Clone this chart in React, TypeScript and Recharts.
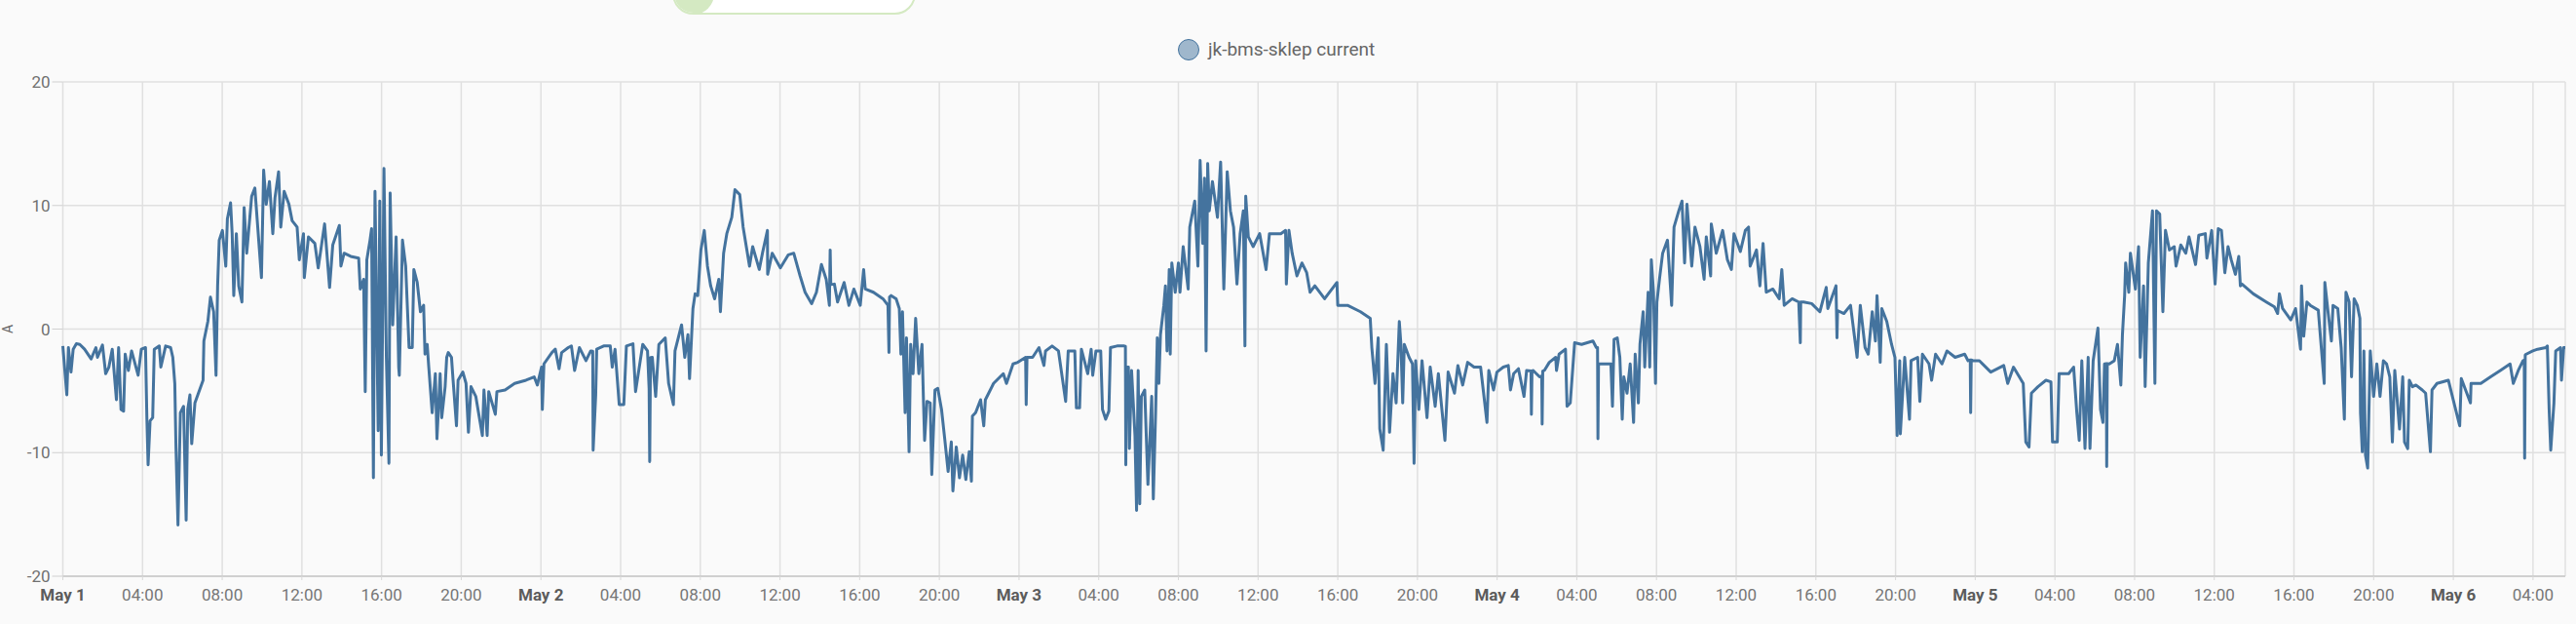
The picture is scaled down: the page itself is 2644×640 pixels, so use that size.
import { LineChart, Line, XAxis, YAxis, CartesianGrid } from "recharts";

// battery current readings [hours since May 1 00:00, amps], one list per day
const may1 = [
  [0.0, -1.37], [0.2, -5.32], [0.28, -1.5], [0.41, -3.48], [0.52, -1.63], [0.68, -1.19], [0.85, -1.24], [1.09, -1.63],
  [1.42, -2.42], [1.66, -1.5], [1.74, -2.29], [1.99, -1.29], [2.15, -3.61], [2.31, -3.08], [2.48, -1.63], [2.69, -5.72],
  [2.8, -1.5], [2.92, -6.51], [3.05, -6.64], [3.13, -2.03], [3.29, -3.35], [3.45, -1.77], [3.78, -3.74], [3.94, -1.63],
  [4.15, -1.5], [4.22, -7.3], [4.28, -10.99], [4.38, -7.43], [4.51, -7.17], [4.59, -1.63], [4.84, -1.37], [4.92, -3.08],
  [5.16, -1.37], [5.41, -1.5], [5.52, -2.29], [5.62, -4.4], [5.68, -9.67], [5.78, -15.86], [5.9, -6.77], [6.06, -6.25],
  [6.19, -15.47], [6.27, -6.51], [6.38, -5.32], [6.47, -9.28], [6.63, -5.98], [7.04, -4.14], [7.08, -0.97], [7.28, 0.61],
  [7.41, 2.58], [7.57, 1.4], [7.69, -3.74], [7.77, 3.5], [7.85, 7.19], [8.01, 7.98], [8.18, 5.09], [8.26, 8.91],
  [8.42, 10.22], [8.5, 7.72], [8.58, 2.71], [8.71, 7.72], [8.83, 3.5], [8.99, 2.19], [9.1, 9.83], [9.23, 6.14],
  [9.48, 10.75], [9.64, 11.41], [9.76, 8.77], [9.97, 4.16], [10.08, 12.86], [10.21, 10.09], [10.37, 11.94], [10.54, 7.72],
  [10.65, 10.62], [10.83, 12.73], [10.94, 8.25], [11.11, 11.15], [11.35, 10.09], [11.51, 8.77], [11.76, 8.25], [11.87, 5.61],
  [12.08, 7.72], [12.12, 4.16], [12.33, 7.46], [12.65, 6.93], [12.82, 4.95], [13.14, 8.51], [13.39, 3.37], [13.55, 6.8],
  [13.88, 8.38], [13.96, 5.09], [14.12, 6.14], [14.45, 5.88], [14.85, 5.74], [14.93, 3.24], [15.1, 4.03], [15.18, -5.06],
  [15.26, 5.61], [15.42, 7.19], [15.5, 8.12], [15.59, -12.04], [15.67, 11.15], [15.83, -8.22], [15.91, 10.36], [15.99, -10.2],
  [16.12, 12.99], [16.24, -2.29], [16.37, -10.86], [16.43, 11.01], [16.56, 0.34], [16.73, 7.46], [16.86, -3.08], [16.89, -3.74],
  [17.05, 7.19], [17.21, 5.09], [17.38, -1.5], [17.54, -1.5], [17.62, 4.82], [17.79, 3.77], [17.95, 1.4], [18.11, 1.92],
  [18.18, -2.03], [18.29, -1.24], [18.37, -3.08], [18.54, -6.77], [18.7, -3.61], [18.78, -8.88], [18.94, -3.61], [19.02, -7.17],
  [19.19, -4.66], [19.27, -2.29], [19.35, -1.9], [19.51, -2.29], [19.59, -4.14], [19.76, -7.83], [19.84, -4.14], [20.08, -3.48],
  [20.24, -4.4], [20.36, -8.35], [20.49, -4.66], [20.73, -5.45], [21.06, -8.62], [21.14, -4.93], [21.3, -8.62], [21.38, -5.06],
  [21.71, -6.9], [21.79, -5.06], [22.2, -4.93], [22.68, -4.4], [23.25, -4.14], [23.66, -3.87], [23.82, -4.53],
];

const may2 = [
  [24.03, -3.08], [24.07, -6.51], [24.15, -2.82], [24.55, -1.9], [24.72, -1.63], [24.91, -3.21], [25.04, -1.9], [25.37, -1.5],
  [25.53, -1.37], [25.69, -3.35], [25.93, -1.5], [26.26, -2.56], [26.5, -1.77], [26.6, -1.8], [26.62, -9.8], [26.75, -5.32], [26.8, -1.63],
  [27.15, -1.37], [27.48, -1.37], [27.58, -3.08], [27.72, -1.63], [27.93, -6.11], [28.16, -6.11], [28.29, -1.37], [28.62, -1.19],
  [28.75, -5.06], [29.11, -1.24], [29.35, -1.77], [29.43, -4.8], [29.46, -10.72], [29.5, -2.3], [29.59, -2.29], [29.76, -5.45], [29.92, -1.24],
  [30.24, -0.71], [30.41, -4.4], [30.65, -6.11], [30.73, -1.77], [31.06, 0.34], [31.22, -2.29], [31.38, -0.45], [31.46, -4.01],
  [31.63, 1.66], [31.74, 2.85], [31.87, 2.71], [32.03, 6.4], [32.2, 7.98], [32.36, 5.09], [32.52, 3.5], [32.72, 2.45],
  [32.93, 4.03], [33.01, 1.4], [33.17, 6.14], [33.33, 7.72], [33.58, 9.04], [33.74, 11.28], [33.98, 10.88], [34.15, 8.25],
  [34.31, 6.67], [34.47, 5.09], [34.63, 6.67], [34.96, 4.82], [35.12, 6.14], [35.37, 7.98], [35.38, 4.43], [35.61, 6.14],
  [36.02, 4.95], [36.42, 6.01], [36.69, 6.14], [37.01, 4.3], [37.26, 2.98], [37.59, 2.06], [37.83, 2.98], [38.08, 5.22],
  [38.32, 4.03], [38.48, 1.92], [38.52, 6.4], [38.55, 3.6], [38.73, 3.64], [38.89, 2.19], [39.22, 3.77], [39.46, 1.92], [39.71, 3.24],
  [40.03, 1.92], [40.2, 4.82], [40.28, 3.24], [40.69, 2.98], [41.17, 2.45], [41.42, 1.92], [41.47, -1.9], [41.5, 2.6], [41.58, 2.71],
  [41.83, 2.45], [41.99, 1.66], [42.07, -2.03], [42.15, 1.4], [42.28, -6.77], [42.35, -0.71], [42.48, -9.93], [42.56, -1.24],
  [42.68, -3.61], [42.81, 0.87], [42.97, -3.61], [43.13, -1.24], [43.21, -6.25], [43.26, -9.01], [43.38, -5.85], [43.54, -5.98],
  [43.62, -11.78], [43.78, -4.93], [43.92, -4.8], [44.11, -6.51], [44.27, -8.88], [44.44, -11.52], [44.6, -9.14], [44.68, -13.1],
  [44.85, -9.54], [45.01, -12.04], [45.17, -10.2], [45.33, -12.17], [45.5, -9.93], [45.61, -12.31], [45.66, -7.04], [45.82, -6.77],
  [46.07, -5.72], [46.23, -7.83], [46.31, -5.72], [46.72, -4.4], [47.21, -3.61], [47.37, -4.4], [47.7, -2.82], [47.94, -2.69],
];

const may3 = [
  [48.33, -2.29], [48.36, -6.11], [48.4, -2.29], [48.68, -2.29], [49.0, -1.5], [49.25, -2.95], [49.33, -1.77], [49.66, -1.37],
  [49.98, -1.77], [50.34, -5.85], [50.47, -1.77], [50.8, -1.77], [50.88, -6.38], [51.04, -6.38], [51.13, -1.63], [51.45, -3.61],
  [51.62, -1.63], [51.7, -3.74], [51.86, -1.77], [52.1, -1.77], [52.19, -6.51], [52.35, -7.3], [52.51, -6.64], [52.59, -1.5],
  [52.92, -1.37], [53.28, -1.37], [53.34, -1.4], [53.36, -10.99], [53.39, -3.08], [53.49, -3.08], [53.54, -9.67], [53.65, -3.35], [53.82, -8.62], [53.9, -14.68],
  [53.98, -3.35], [54.06, -14.15], [54.14, -5.45], [54.31, -4.93], [54.47, -12.57], [54.66, -5.45], [54.74, -13.75], [54.86, -6.51],
  [54.94, -0.71], [55.02, -4.4], [55.1, -0.45], [55.27, 1.92], [55.35, 3.5], [55.43, -1.77], [55.54, 4.82], [55.59, -2.03],
  [55.67, 5.35], [55.84, 2.98], [56.0, 5.35], [56.08, 2.98], [56.24, 6.67], [56.49, 3.24], [56.57, 8.25], [56.82, 10.36],
  [56.98, 5.09], [57.09, 13.65], [57.22, 6.93], [57.31, 12.2], [57.39, -1.77], [57.47, 13.39], [57.55, 9.57], [57.71, 11.94],
  [57.96, 9.04], [58.12, 13.52], [58.28, 3.24], [58.45, 12.73], [58.61, 9.57], [58.77, 8.25], [58.94, 3.64], [59.1, 7.72],
  [59.26, 9.57], [59.34, -1.37], [59.38, 10.75], [59.51, 7.46], [59.75, 6.67], [60.08, 7.72], [60.4, 4.82], [60.57, 7.72],
  [61.14, 7.72], [61.38, 7.98], [61.42, 3.64], [61.55, 7.98], [61.71, 6.14], [61.95, 4.3], [62.2, 5.35], [62.44, 4.56],
  [62.61, 2.98], [62.85, 3.5], [63.34, 2.45], [63.96, 3.77], [64.0, 1.92], [64.49, 1.92], [65.14, 1.4], [65.63, 0.87],
  [65.71, -1.5], [65.87, -4.4], [66.03, -0.71], [66.11, -8.09], [66.28, -9.8], [66.44, -1.24], [66.6, -8.35], [66.77, -3.61],
  [66.93, -5.98], [67.09, 0.61], [67.17, -1.24], [67.26, -5.98], [67.34, -1.24], [67.58, -2.29], [67.75, -2.82], [67.83, -10.86],
  [67.91, -2.56], [68.07, -6.51], [68.23, -2.56], [68.48, -7.17], [68.64, -3.08], [68.89, -6.25], [69.05, -3.61], [69.38, -9.01],
  [69.54, -3.48], [69.86, -5.19], [70.03, -2.95], [70.27, -4.53], [70.52, -2.69], [70.84, -3.08], [71.17, -3.08], [71.49, -7.56],
  [71.58, -3.35], [71.82, -4.93], [71.99, -3.48],
];

const may4 = [
  [72.31, -3.08], [72.56, -2.95], [72.67, -4.93], [72.83, -3.61], [73.07, -3.21], [73.35, -5.45], [73.48, -3.35], [73.7, -3.4], [73.72, -6.9],
  [73.75, -3.4], [73.8, -3.35], [73.97, -3.61], [74.13, -3.87], [74.24, -3.8], [74.26, -7.69], [74.29, -3.4], [74.37, -3.35], [74.62, -2.69], [74.94, -2.29], [74.98, -3.35],
  [75.11, -2.03], [75.43, -1.63], [75.51, -6.25], [75.67, -5.98], [75.89, -1.11], [76.24, -1.24], [76.81, -0.97], [76.98, -1.5],
  [77.04, -1.5], [77.06, -8.88], [77.09, -2.8], [77.14, -2.82], [77.71, -2.82], [77.79, -6.25], [77.87, -0.84], [78.03, -0.71], [78.16, -2.29], [78.28, -7.3],
  [78.36, -3.87], [78.52, -5.19], [78.68, -2.82], [78.85, -7.56], [78.93, -2.03], [79.09, -5.98], [79.17, -1.24], [79.33, 1.4],
  [79.41, -3.08], [79.58, 2.98], [79.66, -3.08], [79.74, 5.61], [79.85, 2.98], [79.95, -4.4], [80.02, 2.19], [80.15, 4.03],
  [80.31, 6.14], [80.55, 7.19], [80.76, 1.92], [80.88, 8.25], [81.12, 9.57], [81.28, 10.36], [81.41, 5.35], [81.53, 10.09],
  [81.77, 5.09], [81.93, 8.25], [82.18, 6.67], [82.39, 4.03], [82.5, 7.46], [82.72, 4.3], [82.75, 8.51], [83.0, 6.14],
  [83.32, 7.98], [83.56, 5.61], [83.76, 4.82], [83.89, 7.72], [84.21, 6.27], [84.46, 7.98], [84.62, 8.25], [84.7, 5.09],
  [85.02, 6.4], [85.19, 3.5], [85.35, 6.93], [85.51, 2.98], [85.84, 3.24], [86.16, 2.45], [86.29, 4.82], [86.41, 1.92],
  [86.81, 2.45], [87.14, 2.19], [87.22, -1.11], [87.24, 2.19], [87.38, 2.19], [87.79, 2.06], [88.2, 1.4], [88.52, 3.37], [88.6, 1.66],
  [89.01, 3.5], [89.06, -0.71], [89.09, 1.5], [89.41, 1.26], [89.74, 1.92], [90.07, -2.29], [90.23, 1.92], [90.47, -1.5], [90.63, -2.03],
  [90.83, 1.4], [90.99, -0.97], [91.07, 2.71], [91.23, -2.69], [91.31, 1.66], [91.56, 0.61], [91.8, -1.24], [91.97, -2.29],
  [92.08, -8.62], [92.21, -2.56], [92.24, -8.48], [92.46, -2.29], [92.7, -7.3], [92.78, -2.56], [93.11, -2.29], [93.22, -5.85],
  [93.35, -2.03], [93.68, -2.82], [93.81, -4.14], [94.01, -2.03], [94.33, -2.82], [94.58, -1.77], [94.99, -2.29], [95.47, -2.03],
  [95.64, -2.56], [95.75, -2.5], [95.77, -6.77], [95.8, -2.5], [95.88, -2.56],
];

const may5 = [
  [96.21, -2.56], [96.78, -3.48], [97.43, -2.95], [97.63, -4.4], [97.92, -3.08], [98.41, -4.4], [98.54, -9.14], [98.7, -9.54],
  [98.82, -5.19], [99.15, -4.66], [99.55, -4.14], [99.8, -4.27], [99.88, -9.14], [100.12, -9.14], [100.21, -3.61], [100.69, -3.61],
  [100.94, -3.08], [101.1, -6.77], [101.22, -9.01], [101.35, -2.56], [101.51, -9.67], [101.67, -2.29], [101.76, -9.67], [101.92, -2.56],
  [102.16, 0.08], [102.29, -6.51], [102.41, -7.56], [102.49, -2.82], [102.58, -2.8], [102.6, -11.12], [102.63, -2.8], [102.73, -2.82], [102.98, -2.56], [103.14, -1.24],
  [103.31, -4.53], [103.39, -0.45], [103.5, 2.71], [103.55, 5.35], [103.71, 2.98], [103.79, 6.14], [104.04, 3.24], [104.2, 6.67],
  [104.28, -2.29], [104.45, 3.5], [104.53, -4.66], [104.69, 5.35], [104.9, 9.57], [105.02, -4.4], [105.1, 9.57], [105.26, 9.3],
  [105.42, 1.4], [105.55, 7.98], [105.75, 6.4], [105.99, 6.67], [106.08, 5.09], [106.32, 6.8], [106.57, 6.14], [106.73, 7.46],
  [107.06, 5.22], [107.22, 7.59], [107.55, 7.72], [107.63, 5.74], [107.87, 7.98], [108.04, 3.64], [108.2, 8.12], [108.36, 7.98],
  [108.53, 4.56], [108.69, 6.67], [108.85, 5.61], [109.06, 4.43], [109.23, 5.88], [109.31, 3.5], [109.39, 3.64], [109.96, 2.85],
  [110.61, 2.19], [111.02, 1.79], [111.18, 1.26], [111.27, 2.85], [111.43, 1.66], [111.84, 0.74], [112.08, 1.66], [112.33, -1.63],
  [112.38, 3.5], [112.49, -0.58], [112.65, 2.19], [112.82, 1.92], [113.22, 1.53], [113.52, -4.4], [113.55, 3.77], [113.71, 1.4],
  [113.88, -0.97], [113.96, 1.92], [114.2, 1.66], [114.37, -1.5], [114.53, -7.3], [114.61, 2.98], [114.77, 2.19], [114.89, -3.87],
  [115.02, 2.45], [115.18, 1.92], [115.31, 0.87], [115.34, -6.77], [115.43, -9.93], [115.51, -1.77], [115.59, -10.2], [115.7, -11.25],
  [115.83, -1.77], [116.0, -5.45], [116.16, -2.82], [116.32, -5.45], [116.49, -2.56], [116.65, -2.82], [116.81, -3.87], [116.94, -9.14],
  [117.06, -3.35], [117.3, -8.09], [117.46, -3.87], [117.55, -9.14], [117.71, -9.67], [117.79, -4.14], [117.95, -4.66], [118.12, -4.53],
  [118.44, -4.93], [118.61, -5.19], [118.85, -9.93], [118.93, -4.93], [119.18, -4.4], [119.75, -4.14],
];

const may6 = [
  [120.32, -7.83], [120.4, -4.01], [120.86, -5.98], [120.89, -4.4], [121.38, -4.4], [121.87, -3.87], [122.36, -3.35], [122.85, -2.82],
  [123.01, -4.4], [123.26, -3.35], [123.5, -2.56], [123.56, -2.5], [123.58, -10.46], [123.61, -2.1], [123.66, -2.03], [123.99, -1.77], [124.23, -1.63], [124.64, -1.5],
  [124.72, -1.37], [124.81, -6.51], [124.89, -9.8], [125.05, -5.98], [125.14, -1.77], [125.38, -1.5], [125.43, -4.14], [125.54, -1.5],
  [125.62, -1.5],
];

const hourTicks = [0, 4, 8, 12, 16, 20, 24, 28, 32, 36, 40, 44, 48, 52, 56, 60, 64, 68, 72, 76, 80, 84, 88, 92, 96, 100, 104, 108, 112, 116, 120, 124];
const dayLabels = ["May 1", "May 2", "May 3", "May 4", "May 5", "May 6"];
const ampTicks = [-20, -10, 0, 10, 20];

const data = [may1, may2, may3, may4, may5, may6].flat().map(([t, a]) => ({ t, a }));

const LINE = "#44739e";

function TimeTick({ x, y, payload }: any) {
  const h = payload.value as number;
  const isDay = h % 24 === 0;
  const label = isDay ? dayLabels[h / 24] : `${String(h % 24).padStart(2, "0")}:00`;
  return (
    <text x={x} y={y} dy="0.71em" textAnchor="middle" fontSize={17}
      fontWeight={isDay ? 700 : 400} fill={isDay ? "#5c5c5c" : "#767676"}>
      {label}
    </text>
  );
}

export default function App() {
  return (
    <div style={{ position: "absolute", left: 0, top: 0, width: 2644, height: 640, background: "#fafafa", overflow: "hidden", fontFamily: "Roboto, sans-serif" }}>
      {/* clipped chip above the card */}
      <div style={{ position: "absolute", left: 690, top: -28, width: 250, height: 43, boxSizing: "border-box", border: "2px solid #d4e9c2", borderRadius: 22, background: "#fff", overflow: "hidden" }}>
        <div style={{ position: "absolute", left: -2, top: -2, width: 43, height: 43, borderRadius: "50%", background: "#d4e9c2" }} />
      </div>

      {/* legend */}
      <div style={{ position: "absolute", left: 1209, top: 40, display: "flex", alignItems: "center", gap: 9 }}>
        <span style={{ width: 22, height: 22, boxSizing: "border-box", borderRadius: "50%", background: "rgba(68,115,158,0.5)", border: `1.5px solid ${LINE}` }} />
        <span style={{ fontSize: 19, color: "#666", lineHeight: "22px" }}>jk-bms-sklep current</span>
      </div>

      <div style={{ position: "absolute", left: 0, top: 329, width: 17, height: 17, transform: "rotate(-90deg)", fontSize: 14, color: "#666", textAlign: "center", lineHeight: "17px" }}>A</div>

      <LineChart width={2644} height={640} data={data} margin={{ top: 84, right: 11, bottom: 0, left: 0 }} style={{ fontFamily: "Roboto, sans-serif" }}>
        <CartesianGrid stroke="#e0e0e0" strokeWidth={1.5} />
        <XAxis dataKey="t" type="number" domain={[0, 125.62]} ticks={hourTicks} interval={0} height={49}
          tickSize={4} tickMargin={9} axisLine={{ stroke: "#c8c8c8", strokeWidth: 1.5 }} tickLine={{ stroke: "#d8d8d8" }}
          tick={<TimeTick />} />
        <YAxis type="number" domain={[-20, 20]} ticks={ampTicks} width={64.5} axisLine={false}
          tickSize={11} tickLine={{ stroke: "#d0d0d0" }} tick={{ fill: "#707070", fontSize: 17 }} />
        <Line dataKey="a" type="linear" stroke={LINE} strokeWidth={3} strokeLinejoin="round" dot={false} isAnimationActive={false} />
      </LineChart>
    </div>
  );
}
